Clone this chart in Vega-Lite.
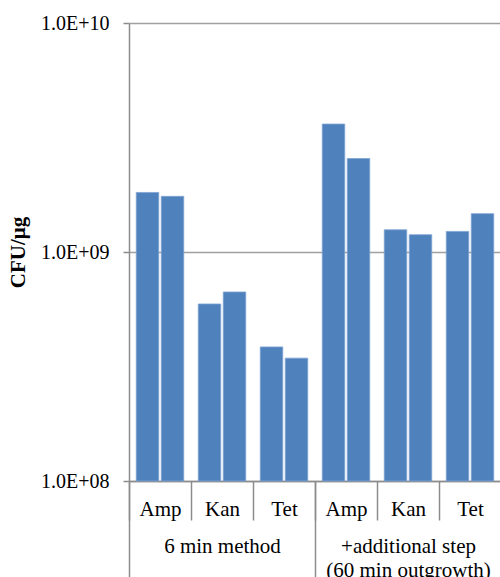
{
  "$schema": "https://vega.github.io/schema/vega-lite/v6.json",
  "autosize": {"type": "none"},
  "padding": {"left": 129, "top": 23, "right": 0, "bottom": 96},
  "width": 372,
  "height": 458,
  "background": "white",
  "config": {
    "view": {"stroke": null},
    "font": "Liberation Serif",
    "axis": {"labelFont": "Liberation Serif", "titleFont": "Liberation Serif", "labelColor": "black", "titleColor": "black"}
  },
  "data": {
    "values": [
      {"method": "6 min method", "cell": "a Amp", "drug": "Amp", "rep": 1, "value": 1.82e9},
      {"method": "6 min method", "cell": "a Amp", "drug": "Amp", "rep": 2, "value": 1.75e9},
      {"method": "6 min method", "cell": "a Kan", "drug": "Kan", "rep": 1, "value": 5.93e8},
      {"method": "6 min method", "cell": "a Kan", "drug": "Kan", "rep": 2, "value": 6.69e8},
      {"method": "6 min method", "cell": "a Tet", "drug": "Tet", "rep": 1, "value": 3.85e8},
      {"method": "6 min method", "cell": "a Tet", "drug": "Tet", "rep": 2, "value": 3.44e8},
      {"method": "+additional step", "cell": "b Amp", "drug": "Amp", "rep": 1, "value": 3.62e9},
      {"method": "+additional step", "cell": "b Amp", "drug": "Amp", "rep": 2, "value": 2.56e9},
      {"method": "+additional step", "cell": "b Kan", "drug": "Kan", "rep": 1, "value": 1.25e9},
      {"method": "+additional step", "cell": "b Kan", "drug": "Kan", "rep": 2, "value": 1.19e9},
      {"method": "+additional step", "cell": "b Tet", "drug": "Tet", "rep": 1, "value": 1.23e9},
      {"method": "+additional step", "cell": "b Tet", "drug": "Tet", "rep": 2, "value": 1.47e9}
    ]
  },
  "layer": [
    {
      "mark": {"type": "bar", "color": "#4f81bd", "stroke": "#7fa3d3", "strokeWidth": 0.8},
      "encoding": {
        "x": {
          "field": "cell", "type": "nominal", "sort": null,
          "scale": {"paddingInner": 0, "paddingOuter": 0},
          "axis": {
            "orient": "bottom",
            "title": null, "labelAngle": 0, "tickBand": "extent", "tickSize": 39,
            "tickColor": "#8c8c8c", "tickWidth": 1.5, "domainColor": "#8c8c8c", "domainWidth": 1.5,
            "labelExpr": "slice(datum.label, 2)", "labelFontSize": 21,
            "labelBaseline": "alphabetic", "labelPadding": -5, "offset": 0
          }
        },
        "xOffset": {"field": "rep", "type": "nominal", "scale": {"paddingInner": 0.1, "paddingOuter": 0.29}},
        "y": {
          "field": "value", "type": "quantitative",
          "scale": {"type": "log", "domain": [100000000, 10000000000]},
          "axis": {
            "title": "CFU/μg", "titleFontSize": 21, "titleFontWeight": "bold", "titlePadding": 12,
            "values": [100000000, 1000000000, 10000000000],
            "labelExpr": "datum.value >= 5e9 ? '1.0E+10' : datum.value >= 5e8 ? '1.0E+09' : '1.0E+08'",
            "labelFontSize": 20, "labelPadding": 14, "tickSize": 6, "tickColor": "#8c8c8c", "tickWidth": 1.5,
            "domainColor": "#8c8c8c", "domainWidth": 1.5,
            "grid": true, "gridColor": "#a0a0a0", "gridWidth": 1.5
          }
        },
        "y2": {"datum": 100000000}
      }
    },
    {
      "mark": {"type": "bar", "opacity": 0},
      "encoding": {
        "x": {
          "field": "method", "type": "nominal", "sort": null,
          "scale": {"paddingInner": 0, "paddingOuter": 0},
          "axis": {
            "orient": "bottom",
            "title": null, "labelAngle": 0, "tickBand": "extent", "tickSize": 100, "domain": false,
            "tickColor": "#8c8c8c", "tickWidth": 1.5,
            "labelExpr": "datum.value == '+additional step' ? ['+additional step', '(60 min outgrowth)'] : datum.label",
            "labelFontSize": 21, "labelLineHeight": 24,
            "labelBaseline": "alphabetic", "labelPadding": -29, "offset": 0
          }
        },
        "y": {"field": "value", "type": "quantitative"},
        "y2": {"datum": 100000000}
      }
    }
  ],
  "resolve": {"scale": {"x": "independent"}, "axis": {"x": "independent"}}
}
